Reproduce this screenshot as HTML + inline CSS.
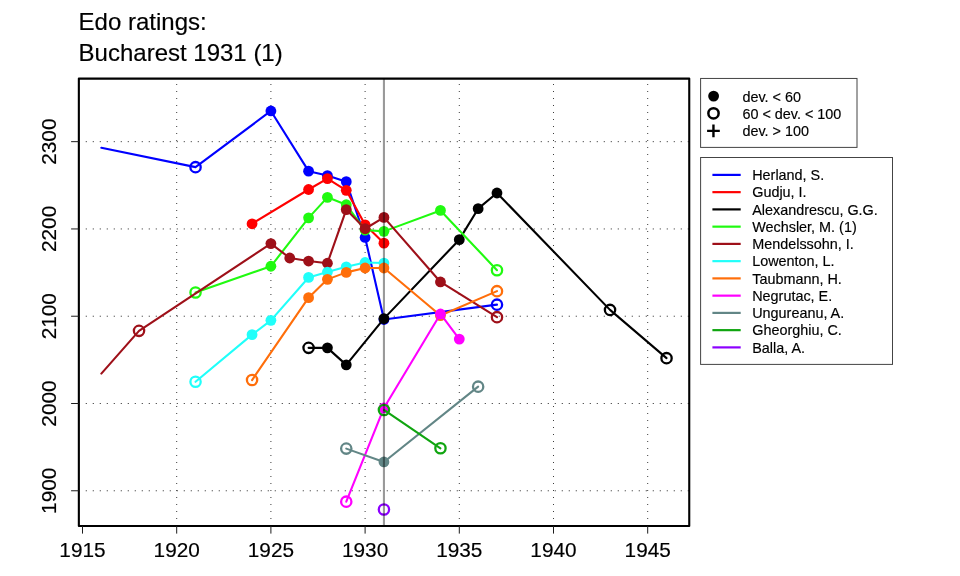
<!DOCTYPE html>
<html><head><meta charset="utf-8"><title>Edo ratings: Bucharest 1931 (1)</title>
<style>html,body{margin:0;padding:0;background:#fff;}body{width:960px;height:576px;overflow:hidden;}svg{display:block;will-change:transform;}text{font-family:"Liberation Sans",sans-serif;fill:#000;stroke:#000;stroke-width:0.16px;}</style></head><body>
<svg width="960" height="576" viewBox="0 0 960 576">
<rect width="960" height="576" fill="#fff"/>
<text x="78.6" y="30.4" font-size="24">Edo ratings:</text>
<text x="78.6" y="60.9" font-size="24">Bucharest 1931 (1)</text>
<g stroke-width="1" fill="none">
<line x1="85.7" x2="689.25" y1="490.78" y2="490.78" stroke="#5a5a5a" stroke-dasharray="1.3 5.7"/>
<line x1="85.7" x2="689.25" y1="403.5" y2="403.5" stroke="#5a5a5a" stroke-dasharray="1.3 5.7"/>
<line x1="85.7" x2="689.25" y1="316.22" y2="316.22" stroke="#5a5a5a" stroke-dasharray="1.3 5.7"/>
<line x1="85.7" x2="689.25" y1="228.94" y2="228.94" stroke="#5a5a5a" stroke-dasharray="1.3 5.7"/>
<line x1="85.7" x2="689.25" y1="141.66" y2="141.66" stroke="#5a5a5a" stroke-dasharray="1.3 5.7"/>
<line x1="176.7" x2="176.7" y1="84" y2="525.95" stroke="#3c3c3c" stroke-dasharray="1 6"/>
<line x1="270.9" x2="270.9" y1="84" y2="525.95" stroke="#3c3c3c" stroke-dasharray="1 6"/>
<line x1="365.1" x2="365.1" y1="84" y2="525.95" stroke="#3c3c3c" stroke-dasharray="1 6"/>
<line x1="459.3" x2="459.3" y1="84" y2="525.95" stroke="#3c3c3c" stroke-dasharray="1 6"/>
<line x1="553.5" x2="553.5" y1="84" y2="525.95" stroke="#3c3c3c" stroke-dasharray="1 6"/>
<line x1="647.7" x2="647.7" y1="84" y2="525.95" stroke="#3c3c3c" stroke-dasharray="1 6"/>
</g>
<path d="M101.34 147.78 L195.54 167.15 L270.9 110.96 L308.58 171.16 L327.42 175.53 L346.26 181.63 L365.1 237.47 L383.94 319.49 L496.98 304.66" fill="none" stroke="#0000FF" stroke-width="2.1" stroke-linejoin="round" stroke-linecap="round"/>
<circle cx="195.54" cy="167.15" r="5.15" fill="none" stroke="#0000FF" stroke-width="2.3"/>
<circle cx="270.9" cy="110.96" r="5.4" fill="#0000FF"/>
<circle cx="308.58" cy="171.16" r="5.4" fill="#0000FF"/>
<circle cx="327.42" cy="175.53" r="5.4" fill="#0000FF"/>
<circle cx="346.26" cy="181.63" r="5.4" fill="#0000FF"/>
<circle cx="365.1" cy="237.47" r="5.4" fill="#0000FF"/>
<circle cx="383.94" cy="319.49" r="5.4" fill="#0000FF"/>
<circle cx="496.98" cy="304.66" r="5.15" fill="none" stroke="#0000FF" stroke-width="2.3"/>
<path d="M252.06 223.78 L308.58 189.49 L327.42 178.58 L346.26 190.36 L365.1 224.82 L383.94 243.15" fill="none" stroke="#FF0000" stroke-width="2.1" stroke-linejoin="round" stroke-linecap="round"/>
<circle cx="252.06" cy="223.78" r="5.4" fill="#FF0000"/>
<circle cx="308.58" cy="189.49" r="5.4" fill="#FF0000"/>
<circle cx="327.42" cy="178.58" r="5.4" fill="#FF0000"/>
<circle cx="346.26" cy="190.36" r="5.4" fill="#FF0000"/>
<circle cx="365.1" cy="224.82" r="5.4" fill="#FF0000"/>
<circle cx="383.94" cy="243.15" r="5.4" fill="#FF0000"/>
<path d="M308.58 347.85 L327.42 347.85 L346.26 364.86 L383.94 318.62 L459.3 239.66 L478.14 208.68 L496.98 192.98 L610.02 309.89 L666.54 358.14" fill="none" stroke="#000000" stroke-width="2.1" stroke-linejoin="round" stroke-linecap="round"/>
<circle cx="308.58" cy="347.85" r="5.15" fill="none" stroke="#000000" stroke-width="2.3"/>
<circle cx="327.42" cy="347.85" r="5.4" fill="#000000"/>
<circle cx="346.26" cy="364.86" r="5.4" fill="#000000"/>
<circle cx="383.94" cy="318.62" r="5.4" fill="#000000"/>
<circle cx="459.3" cy="239.66" r="5.4" fill="#000000"/>
<circle cx="478.14" cy="208.68" r="5.4" fill="#000000"/>
<circle cx="496.98" cy="192.98" r="5.4" fill="#000000"/>
<circle cx="610.02" cy="309.89" r="5.15" fill="none" stroke="#000000" stroke-width="2.3"/>
<circle cx="666.54" cy="358.14" r="5.15" fill="none" stroke="#000000" stroke-width="2.3"/>
<path d="M195.54 292.44 L270.9 266.27 L308.58 217.84 L327.42 197.34 L346.26 204.76 L365.1 230.06 L383.94 231.37 L440.46 210.43 L496.98 270.19" fill="none" stroke="#20FA10" stroke-width="2.1" stroke-linejoin="round" stroke-linecap="round"/>
<circle cx="195.54" cy="292.44" r="5.15" fill="none" stroke="#20FA10" stroke-width="2.3"/>
<circle cx="270.9" cy="266.27" r="5.4" fill="#20FA10"/>
<circle cx="308.58" cy="217.84" r="5.4" fill="#20FA10"/>
<circle cx="327.42" cy="197.34" r="5.4" fill="#20FA10"/>
<circle cx="346.26" cy="204.76" r="5.4" fill="#20FA10"/>
<circle cx="365.1" cy="230.06" r="5.4" fill="#20FA10"/>
<circle cx="383.94" cy="231.37" r="5.4" fill="#20FA10"/>
<circle cx="440.46" cy="210.43" r="5.4" fill="#20FA10"/>
<circle cx="496.98" cy="270.19" r="5.15" fill="none" stroke="#20FA10" stroke-width="2.3"/>
<path d="M101.34 373.58 L139.02 330.83 L270.9 243.58 L289.74 257.98 L308.58 261.03 L327.42 263.21 L346.26 209.56 L365.1 228.75 L383.94 217.41 L440.46 281.97 L496.98 317.13" fill="none" stroke="#9E1019" stroke-width="2.1" stroke-linejoin="round" stroke-linecap="round"/>
<circle cx="139.02" cy="330.83" r="5.15" fill="none" stroke="#9E1019" stroke-width="2.3"/>
<circle cx="270.9" cy="243.58" r="5.4" fill="#9E1019"/>
<circle cx="289.74" cy="257.98" r="5.4" fill="#9E1019"/>
<circle cx="308.58" cy="261.03" r="5.4" fill="#9E1019"/>
<circle cx="327.42" cy="263.21" r="5.4" fill="#9E1019"/>
<circle cx="346.26" cy="209.56" r="5.4" fill="#9E1019"/>
<circle cx="365.1" cy="228.75" r="5.4" fill="#9E1019"/>
<circle cx="383.94" cy="217.41" r="5.4" fill="#9E1019"/>
<circle cx="440.46" cy="281.97" r="5.4" fill="#9E1019"/>
<circle cx="496.98" cy="317.13" r="5.15" fill="none" stroke="#9E1019" stroke-width="2.3"/>
<path d="M195.54 381.79 L252.06 334.67 L270.9 320.36 L308.58 277.44 L327.42 272.03 L346.26 266.79 L365.1 262.52 L383.94 263.04" fill="none" stroke="#20FFFA" stroke-width="2.1" stroke-linejoin="round" stroke-linecap="round"/>
<circle cx="195.54" cy="381.79" r="5.15" fill="none" stroke="#20FFFA" stroke-width="2.3"/>
<circle cx="252.06" cy="334.67" r="5.4" fill="#20FFFA"/>
<circle cx="270.9" cy="320.36" r="5.4" fill="#20FFFA"/>
<circle cx="308.58" cy="277.44" r="5.4" fill="#20FFFA"/>
<circle cx="327.42" cy="272.03" r="5.4" fill="#20FFFA"/>
<circle cx="346.26" cy="266.79" r="5.4" fill="#20FFFA"/>
<circle cx="365.1" cy="262.52" r="5.4" fill="#20FFFA"/>
<circle cx="383.94" cy="263.04" r="5.4" fill="#20FFFA"/>
<path d="M252.06 380.04 L308.58 297.68 L327.42 279.36 L346.26 272.38 L365.1 268.01 L383.94 268.01 L440.46 315.56 L496.98 291.13" fill="none" stroke="#FF6E0A" stroke-width="2.1" stroke-linejoin="round" stroke-linecap="round"/>
<circle cx="252.06" cy="380.04" r="5.15" fill="none" stroke="#FF6E0A" stroke-width="2.3"/>
<circle cx="308.58" cy="297.68" r="5.4" fill="#FF6E0A"/>
<circle cx="327.42" cy="279.36" r="5.4" fill="#FF6E0A"/>
<circle cx="346.26" cy="272.38" r="5.4" fill="#FF6E0A"/>
<circle cx="365.1" cy="268.01" r="5.4" fill="#FF6E0A"/>
<circle cx="383.94" cy="268.01" r="5.4" fill="#FF6E0A"/>
<circle cx="440.46" cy="315.56" r="5.4" fill="#FF6E0A"/>
<circle cx="496.98" cy="291.13" r="5.15" fill="none" stroke="#FF6E0A" stroke-width="2.3"/>
<path d="M346.26 501.67 L383.94 407.96 L440.46 313.99 L459.3 339.12" fill="none" stroke="#FF00FF" stroke-width="2.1" stroke-linejoin="round" stroke-linecap="round"/>
<circle cx="346.26" cy="501.67" r="5.15" fill="none" stroke="#FF00FF" stroke-width="2.3"/>
<circle cx="383.94" cy="407.96" r="5.4" fill="#FF00FF"/>
<circle cx="440.46" cy="313.99" r="5.4" fill="#FF00FF"/>
<circle cx="459.3" cy="339.12" r="5.4" fill="#FF00FF"/>
<path d="M346.26 448.62 L383.94 461.97 L478.14 386.67" fill="none" stroke="#628686" stroke-width="2.1" stroke-linejoin="round" stroke-linecap="round"/>
<circle cx="346.26" cy="448.62" r="5.15" fill="none" stroke="#628686" stroke-width="2.3"/>
<circle cx="383.94" cy="461.97" r="5.4" fill="#628686"/>
<circle cx="478.14" cy="386.67" r="5.15" fill="none" stroke="#628686" stroke-width="2.3"/>
<path d="M383.94 409.97 L440.46 448.27" fill="none" stroke="#10A510" stroke-width="2.1" stroke-linejoin="round" stroke-linecap="round"/>
<circle cx="383.94" cy="409.97" r="5.15" fill="none" stroke="#10A510" stroke-width="2.3"/>
<circle cx="440.46" cy="448.27" r="5.15" fill="none" stroke="#10A510" stroke-width="2.3"/>
<circle cx="383.94" cy="509.52" r="5.15" fill="none" stroke="#8C00FF" stroke-width="2.3"/>
<line x1="383.94" x2="383.94" y1="78.6" y2="525.95" stroke="#000" stroke-opacity="0.4" stroke-width="2.1"/>
<rect x="78.85" y="78.6" width="610.4" height="447.35" fill="none" stroke="#000" stroke-width="2.1" stroke-linejoin="round"/>
<g stroke="#1c1c1c" stroke-width="1">
<line x1="82.5" x2="82.5" y1="525.95" y2="533.6"/>
<line x1="176.7" x2="176.7" y1="525.95" y2="533.6"/>
<line x1="270.9" x2="270.9" y1="525.95" y2="533.6"/>
<line x1="365.1" x2="365.1" y1="525.95" y2="533.6"/>
<line x1="459.3" x2="459.3" y1="525.95" y2="533.6"/>
<line x1="553.5" x2="553.5" y1="525.95" y2="533.6"/>
<line x1="647.7" x2="647.7" y1="525.95" y2="533.6"/>
<line x1="71.1" x2="78.85" y1="490.78" y2="490.78"/>
<line x1="71.1" x2="78.85" y1="403.5" y2="403.5"/>
<line x1="71.1" x2="78.85" y1="316.22" y2="316.22"/>
<line x1="71.1" x2="78.85" y1="228.94" y2="228.94"/>
<line x1="71.1" x2="78.85" y1="141.66" y2="141.66"/>
</g>
<text x="82.5" y="556.6" font-size="20.8" text-anchor="middle">1915</text>
<text x="176.7" y="556.6" font-size="20.8" text-anchor="middle">1920</text>
<text x="270.9" y="556.6" font-size="20.8" text-anchor="middle">1925</text>
<text x="365.1" y="556.6" font-size="20.8" text-anchor="middle">1930</text>
<text x="459.3" y="556.6" font-size="20.8" text-anchor="middle">1935</text>
<text x="553.5" y="556.6" font-size="20.8" text-anchor="middle">1940</text>
<text x="647.7" y="556.6" font-size="20.8" text-anchor="middle">1945</text>
<text transform="translate(56.3 490.78) rotate(-90)" font-size="20.8" text-anchor="middle">1900</text>
<text transform="translate(56.3 403.5) rotate(-90)" font-size="20.8" text-anchor="middle">2000</text>
<text transform="translate(56.3 316.22) rotate(-90)" font-size="20.8" text-anchor="middle">2100</text>
<text transform="translate(56.3 228.94) rotate(-90)" font-size="20.8" text-anchor="middle">2200</text>
<text transform="translate(56.3 141.66) rotate(-90)" font-size="20.8" text-anchor="middle">2300</text>
<rect x="700.6" y="78.45" width="156.4" height="68.95" fill="#fff" stroke="#444" stroke-width="1"/>
<circle cx="713.6" cy="96.1" r="5.4" fill="#000"/>
<circle cx="713.5" cy="113.3" r="5.15" fill="none" stroke="#000" stroke-width="2.5"/>
<path d="M707.1 130.85H719.8M713.45 124.5V137.2" stroke="#000" stroke-width="2.4" fill="none"/>
<text x="742.4" y="101.6" font-size="14.4">dev. &lt; 60</text>
<text x="742.4" y="118.6" font-size="14.4">60 &lt; dev. &lt; 100</text>
<text x="742.4" y="135.6" font-size="14.4">dev. &gt; 100</text>
<rect x="700.6" y="157.5" width="191.9" height="206.9" fill="#fff" stroke="#444" stroke-width="1"/>
<line x1="712.4" x2="740.7" y1="174.9" y2="174.9" stroke="#0000FF" stroke-width="2.2"/>
<text x="752.2" y="180.0" font-size="14.4">Herland, S.</text>
<line x1="712.4" x2="740.7" y1="192.15" y2="192.15" stroke="#FF0000" stroke-width="2.2"/>
<text x="752.2" y="197.25" font-size="14.4">Gudju, I.</text>
<line x1="712.4" x2="740.7" y1="209.4" y2="209.4" stroke="#000000" stroke-width="2.2"/>
<text x="752.2" y="214.5" font-size="14.4">Alexandrescu, G.G.</text>
<line x1="712.4" x2="740.7" y1="226.65" y2="226.65" stroke="#20FA10" stroke-width="2.2"/>
<text x="752.2" y="231.75" font-size="14.4">Wechsler, M. (1)</text>
<line x1="712.4" x2="740.7" y1="243.9" y2="243.9" stroke="#9E1019" stroke-width="2.2"/>
<text x="752.2" y="249.0" font-size="14.4">Mendelssohn, I.</text>
<line x1="712.4" x2="740.7" y1="261.15" y2="261.15" stroke="#20FFFA" stroke-width="2.2"/>
<text x="752.2" y="266.25" font-size="14.4">Lowenton, L.</text>
<line x1="712.4" x2="740.7" y1="278.4" y2="278.4" stroke="#FF6E0A" stroke-width="2.2"/>
<text x="752.2" y="283.5" font-size="14.4">Taubmann, H.</text>
<line x1="712.4" x2="740.7" y1="295.65" y2="295.65" stroke="#FF00FF" stroke-width="2.2"/>
<text x="752.2" y="300.75" font-size="14.4">Negrutac, E.</text>
<line x1="712.4" x2="740.7" y1="312.9" y2="312.9" stroke="#628686" stroke-width="2.2"/>
<text x="752.2" y="318.0" font-size="14.4">Ungureanu, A.</text>
<line x1="712.4" x2="740.7" y1="330.15" y2="330.15" stroke="#10A510" stroke-width="2.2"/>
<text x="752.2" y="335.25" font-size="14.4">Gheorghiu, C.</text>
<line x1="712.4" x2="740.7" y1="347.4" y2="347.4" stroke="#8C00FF" stroke-width="2.2"/>
<text x="752.2" y="352.5" font-size="14.4">Balla, A.</text>
</svg></body></html>
